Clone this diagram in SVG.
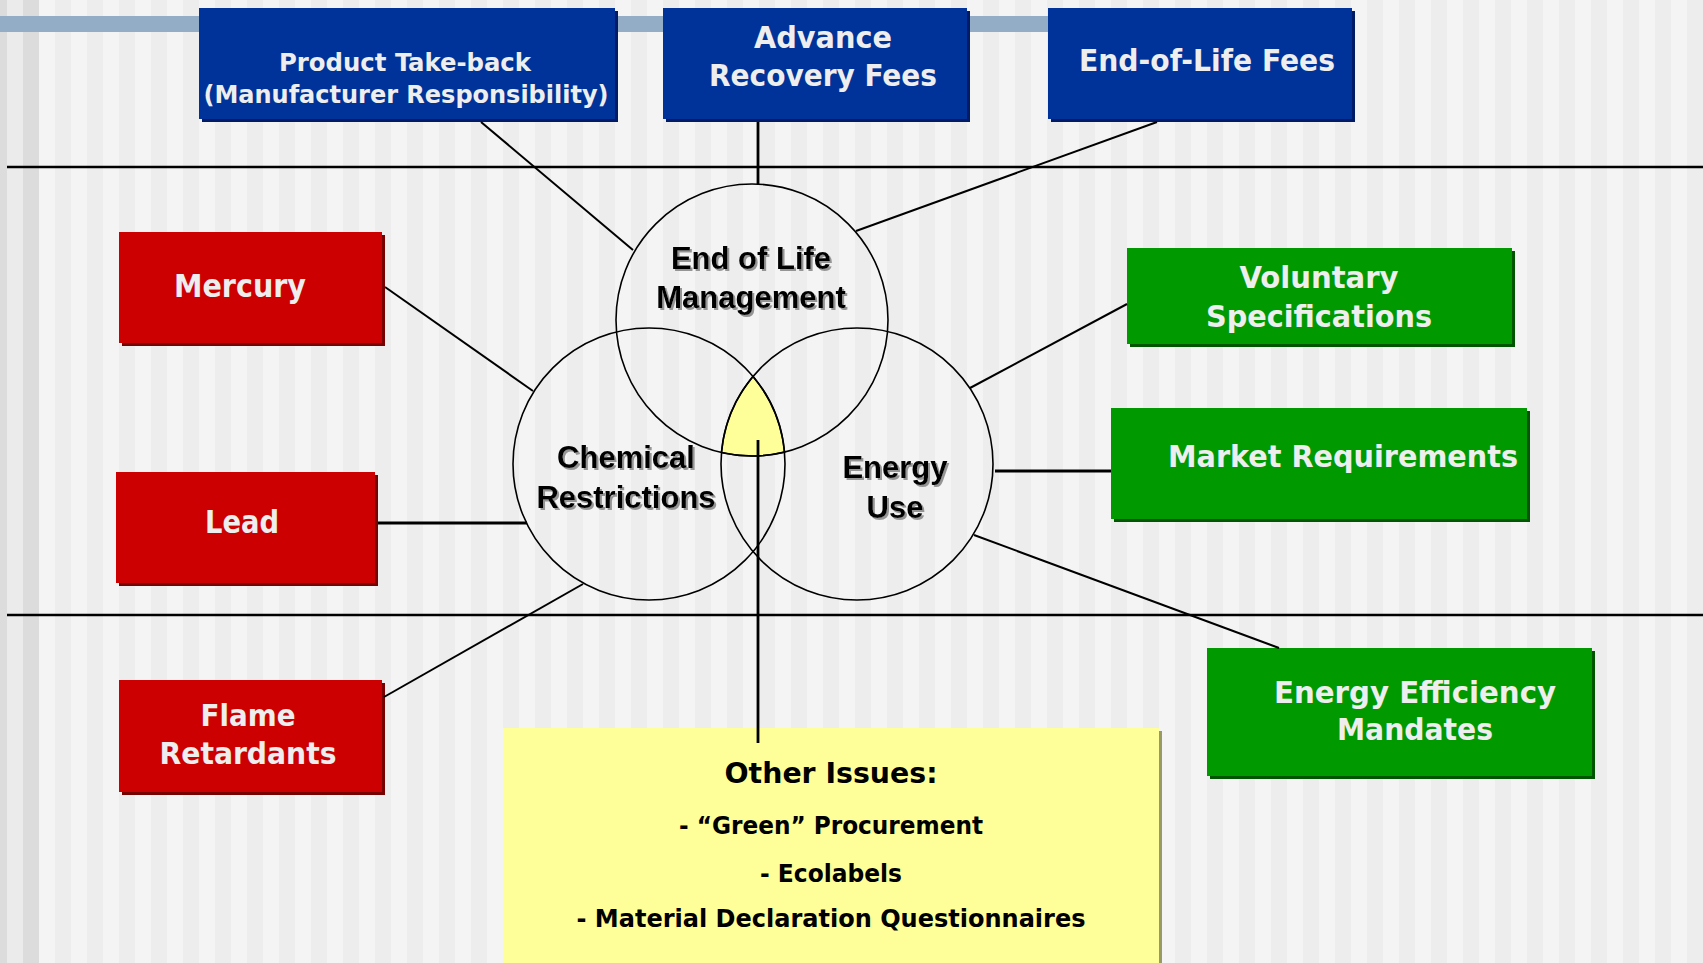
<svg xmlns="http://www.w3.org/2000/svg" width="1703" height="963" viewBox="0 0 1703 963">
<defs>
<pattern id="stripes" x="39" y="0" width="32" height="963" patternUnits="userSpaceOnUse">
<rect x="0" y="0" width="16" height="963" fill="#f4f4f4"/>
<rect x="16" y="0" width="16" height="963" fill="#ededed"/>
</pattern>
<filter id="tshadow" x="-10%" y="-30%" width="130%" height="170%">
<feDropShadow dx="2" dy="2" stdDeviation="0.7" flood-color="#8a8a8a" flood-opacity="0.9"/>
</filter>
</defs>
<style>
.lbl{font-family:"DejaVu Sans","Liberation Sans",sans-serif;font-weight:bold;font-stretch:condensed;fill:#eeeeee;text-anchor:middle}
.blue{fill:#003399}.blue-s{fill:#001c66}
.red{fill:#cc0000}.red-s{fill:#770000}
.green{fill:#009900}.green-s{fill:#005500}
.circ{fill:none;stroke:#000;stroke-width:1.6}
.conn line{stroke:#000;stroke-width:2}
.conn line.thick{stroke-width:2.8}
.vtxt{font-family:"Liberation Sans",Arial,sans-serif;font-weight:bold;font-size:31px;fill:#000;text-anchor:middle;filter:url(#tshadow)}
.otxt{font-family:"DejaVu Sans","Liberation Sans",sans-serif;font-weight:bold;font-stretch:condensed;fill:#000;text-anchor:middle}
</style>

<!-- background -->
<rect x="0" y="0" width="1703" height="963" fill="#f4f4f4"/>
<rect x="39" y="0" width="1664" height="963" fill="url(#stripes)"/>
<rect x="0" y="0" width="7" height="963" fill="#dcdcdc"/>
<rect x="7" y="0" width="16" height="963" fill="#ebebeb"/>
<rect x="23" y="0" width="16" height="963" fill="#dcdcdc"/>
<rect x="0" y="16" width="1354" height="16" fill="#93adc7"/>
<line x1="7" y1="167" x2="1703" y2="167" stroke="#000" stroke-width="2.6"/>
<line x1="7" y1="615" x2="1703" y2="615" stroke="#000" stroke-width="2.6"/>

<!-- venn -->
<g id="venn">
<path d="M 753 376.4 A 136 136 0 0 0 721.5 452.5 A 136 136 0 0 0 784.5 452.1 A 136 136 0 0 0 753 376.4 Z" fill="#ffff99" stroke="#000" stroke-width="1.6"/>
<g id="end-of-life">
<circle class="circ" cx="752" cy="320" r="136"/>
<text class="vtxt" x="751" y="269">End of Life</text>
<text class="vtxt" x="751" y="308">Management</text>
</g>
<g id="chemical">
<circle class="circ" cx="649" cy="464" r="136"/>
<text class="vtxt" x="626" y="468">Chemical</text>
<text class="vtxt" x="626" y="508">Restrictions</text>
</g>
<g id="energy">
<circle class="circ" cx="857" cy="464" r="136"/>
<text class="vtxt" x="895" y="478">Energy</text>
<text class="vtxt" x="895" y="518">Use</text>
</g>
</g>

<!-- top blue nodes -->
<g id="take-back">
<rect class="blue-s" x="202" y="11" width="416" height="111"/>
<rect class="blue" x="199" y="8" width="416" height="111"/>
<text class="lbl" x="405" y="71" font-size="24" textLength="252" lengthAdjust="spacingAndGlyphs">Product Take-back</text>
<text class="lbl" x="406" y="103" font-size="24" textLength="405" lengthAdjust="spacingAndGlyphs">(Manufacturer Responsibility)</text>
</g>
<g id="advance-fees">
<rect class="blue-s" x="666" y="11" width="304" height="111"/>
<rect class="blue" x="663" y="8" width="304" height="111"/>
<text class="lbl" x="823" y="48" font-size="30" textLength="138" lengthAdjust="spacingAndGlyphs">Advance</text>
<text class="lbl" x="823" y="86" font-size="30" textLength="228" lengthAdjust="spacingAndGlyphs">Recovery Fees</text>
</g>
<g id="eol-fees">
<rect class="blue-s" x="1051" y="11" width="304" height="111"/>
<rect class="blue" x="1048" y="8" width="304" height="111"/>
<text class="lbl" x="1207" y="71" font-size="30" textLength="256" lengthAdjust="spacingAndGlyphs">End-of-Life Fees</text>
</g>

<!-- red nodes -->
<g id="mercury">
<rect class="red-s" x="122" y="235" width="263" height="111"/>
<rect class="red" x="119" y="232" width="263" height="111"/>
<text class="lbl" x="240" y="297" font-size="32" textLength="132" lengthAdjust="spacingAndGlyphs">Mercury</text>
</g>
<g id="lead">
<rect class="red-s" x="119" y="475" width="259" height="111"/>
<rect class="red" x="116" y="472" width="259" height="111"/>
<text class="lbl" x="242" y="533" font-size="32" textLength="74" lengthAdjust="spacingAndGlyphs">Lead</text>
</g>
<g id="flame">
<rect class="red-s" x="122" y="683" width="263" height="112"/>
<rect class="red" x="119" y="680" width="263" height="112"/>
<text class="lbl" x="248" y="726" font-size="31" textLength="95" lengthAdjust="spacingAndGlyphs">Flame</text>
<text class="lbl" x="248" y="764" font-size="31" textLength="177" lengthAdjust="spacingAndGlyphs">Retardants</text>
</g>

<!-- green nodes -->
<g id="voluntary">
<rect class="green-s" x="1130" y="251" width="385" height="96"/>
<rect class="green" x="1127" y="248" width="385" height="96"/>
<text class="lbl" x="1319" y="288" font-size="30" textLength="159" lengthAdjust="spacingAndGlyphs">Voluntary</text>
<text class="lbl" x="1319" y="327" font-size="30" textLength="226" lengthAdjust="spacingAndGlyphs">Specifications</text>
</g>
<g id="market">
<rect class="green-s" x="1114" y="411" width="416" height="111"/>
<rect class="green" x="1111" y="408" width="416" height="111"/>
<text class="lbl" x="1343" y="467" font-size="30" textLength="350" lengthAdjust="spacingAndGlyphs">Market Requirements</text>
</g>
<g id="efficiency">
<rect class="green-s" x="1210" y="651" width="385" height="128"/>
<rect class="green" x="1207" y="648" width="385" height="128"/>
<text class="lbl" x="1415" y="703" font-size="30" textLength="282" lengthAdjust="spacingAndGlyphs">Energy Efficiency</text>
<text class="lbl" x="1415" y="740" font-size="30" textLength="156" lengthAdjust="spacingAndGlyphs">Mandates</text>
</g>

<!-- other issues -->
<g id="other-issues">
<rect x="506" y="731" width="656" height="240" fill="#999966"/>
<rect x="503" y="728" width="656" height="240" fill="#ffff99"/>
<text class="otxt" x="831" y="783" font-size="28" textLength="213" lengthAdjust="spacingAndGlyphs">Other Issues:</text>
<text class="otxt" x="831" y="834" font-size="24" textLength="304" lengthAdjust="spacingAndGlyphs">- “Green” Procurement</text>
<text class="otxt" x="831" y="882" font-size="24" textLength="142" lengthAdjust="spacingAndGlyphs">- Ecolabels</text>
<text class="otxt" x="831" y="927" font-size="24" textLength="509" lengthAdjust="spacingAndGlyphs">- Material Declaration Questionnaires</text>
</g>

<!-- connectors -->
<g id="connectors" class="conn">
<line x1="481" y1="122" x2="633" y2="250"/>
<line class="thick" x1="758" y1="122" x2="758" y2="184"/>
<line x1="1157" y1="122" x2="856" y2="231"/>
<line x1="385" y1="287" x2="533" y2="391"/>
<line class="thick" x1="378" y1="523" x2="527" y2="523"/>
<line x1="384" y1="697" x2="583" y2="584"/>
<line x1="1127" y1="304" x2="970" y2="388"/>
<line class="thick" x1="995" y1="471" x2="1111" y2="471"/>
<line x1="974" y1="535" x2="1279" y2="648"/>
<line class="thick" x1="758" y1="440" x2="758" y2="743"/>
</g>
</svg>
